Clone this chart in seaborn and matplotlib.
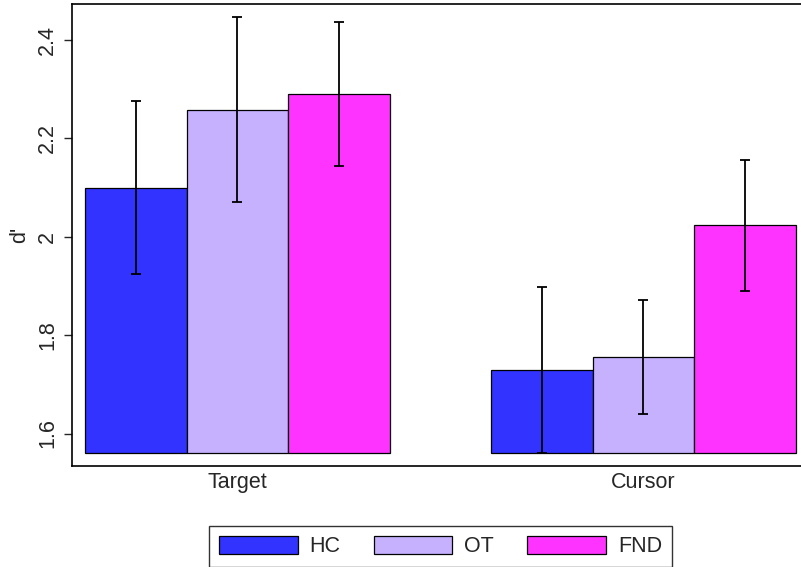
import matplotlib
matplotlib.use("Agg")
import matplotlib.pyplot as plt
import seaborn as sns
import pandas as pd

# Sensitivity (d') by condition and group, with symmetric error half-widths
conditions = ["Target", "Cursor"]
groups = ["HC", "OT", "FND"]
dprime = {
    "HC":  [2.100, 1.729],
    "OT":  [2.258, 1.755],
    "FND": [2.290, 2.023],
}
err = {
    "HC":  [0.175, 0.169],
    "OT":  [0.188, 0.116],
    "FND": [0.147, 0.133],
}
colors = ["#3333FF", "#C6B1FF", "#FF33FF"]
yticks = [1.6, 1.8, 2.0, 2.2, 2.4]
ytick_labels = ["1.6", "1.8", "2", "2.2", "2.4"]
base = 1.561

rows = []
for g in groups:
    for c, v, e in zip(conditions, dprime[g], err[g]):
        rows.append({"condition": c, "group": g, "d": v, "se": e})
df = pd.DataFrame(rows)

sns.set_style("white")
plt.rcParams["font.family"] = ["Liberation Sans", "DejaVu Sans"]
fs = 15.5

fig = plt.figure(figsize=(8.01, 5.67), dpi=100)
ax = fig.add_axes([72 / 801, (567 - 466) / 567, 735 / 801, 462 / 567])

sns.barplot(data=df, x="condition", y="d", hue="group", order=conditions,
            hue_order=groups, palette=colors, width=0.75, errorbar=None,
            saturation=1, edgecolor="black", linewidth=0.9, ax=ax)

# bars start from the lower plotting limit; error bars at each bar centre
for cont, g in zip(ax.containers, groups):
    sub = df[df["group"] == g].set_index("condition").loc[conditions]
    for p, (_, r) in zip(cont.patches, sub.iterrows()):
        top = p.get_height()
        p.set_y(base)
        p.set_height(top - base)
        ax.errorbar(p.get_x() + p.get_width() / 2, r["d"], yerr=r["se"],
                    fmt="none", ecolor="black", elinewidth=1.3,
                    capsize=3.6, capthick=1.3, zorder=5)

ax.set_xlim(-0.407, 1.403)
ax.set_ylim(1.534, 2.473)
ax.set_yticks(yticks)
ax.set_yticklabels(ytick_labels, rotation=90, va="center", fontsize=fs)
ax.tick_params(axis="y", length=6, width=1, direction="out", pad=4, left=True)
ax.tick_params(axis="x", length=0, labelsize=fs, pad=4)
ax.set_xlabel("")
ax.set_ylabel("d'", fontsize=fs, labelpad=5)
for s in ["left", "top", "bottom"]:
    ax.spines[s].set_visible(True)
    ax.spines[s].set_color("black")
    ax.spines[s].set_linewidth(1.2)
ax.spines["right"].set_visible(False)

ax.legend_.remove()
handles = [matplotlib.patches.Patch(facecolor=c, edgecolor="black", linewidth=0.9)
           for c in colors]
leg = fig.legend(handles, groups, loc="center", bbox_to_anchor=(440.5 / 801, 1 - 546.5 / 567),
                 ncol=3, fontsize=fs, frameon=True, fancybox=False,
                 handlelength=3.65, handleheight=0.92, handletextpad=0.55,
                 columnspacing=1.55, borderpad=0.45, borderaxespad=0)
leg.get_frame().set_edgecolor("black")
leg.get_frame().set_linewidth(1.0)

fig.savefig("out.png", dpi=100)
